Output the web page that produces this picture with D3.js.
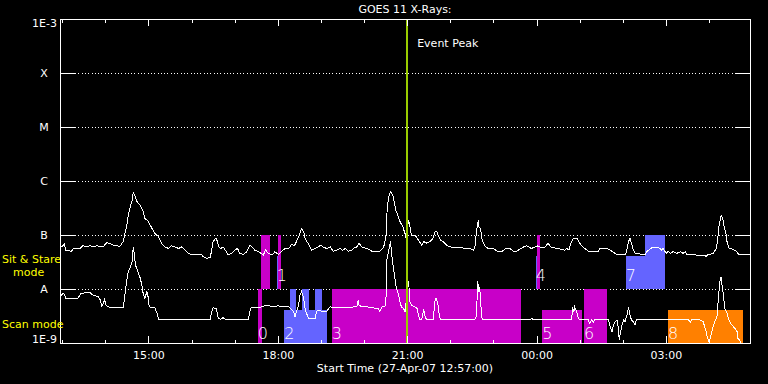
<!DOCTYPE html>
<html>
<head>
<meta charset="utf-8">
<script src="https://cdn.jsdelivr.net/npm/d3@7"></script>
<style>
  html, body { margin: 0; padding: 0; background: #000; }
  svg text { font-family: "DejaVu Sans", sans-serif; }
</style>
</head>
<body>
<div id="chart"></div>
<script>
// time window: 27-Apr-07 12:57 to 28-Apr-07 04:57 UT
const START = Date.UTC(2007, 3, 27, 12, 57);
const END = Date.UTC(2007, 3, 28, 4, 57);
const EVENT_PEAK = 483; // minutes after start

const decades = [-9, -8, -7, -6, -5, -4, -3];
const decadeLabels = ['1E-9', 'A', 'B', 'C', 'M', 'X', '1E-3'];

// [minutes after start, log10 flux (W/m^2)]
const longChannel = [
  [2,-7.22],[6,-7.17],[8,-7.28],[16,-7.30],[19,-7.25],[28,-7.25],[32,-7.19],[35,-7.22],[42,-7.20],[46,-7.22],
  [51,-7.20],[60,-7.22],[65,-7.14],[70,-7.16],[74,-7.19],[79,-7.19],[83,-7.22],[86,-7.16],[88,-7.12],[90,-7.00],
  [93,-6.81],[95,-6.63],[97,-6.51],[100,-6.38],[102,-6.21],[104,-6.26],[107,-6.38],[111,-6.44],[116,-6.57],[118,-6.69],
  [123,-6.75],[128,-6.88],[132,-6.97],[137,-7.03],[141,-7.15],[146,-7.22],[151,-7.25],[155,-7.20],[160,-7.22],[165,-7.25],
  [169,-7.22],[174,-7.28],[179,-7.34],[183,-7.36],[197,-7.36],[199,-7.40],[204,-7.43],[209,-7.42],[211,-7.28],[213,-7.12],
  [217,-7.06],[219,-7.12],[221,-7.22],[224,-7.25],[227,-7.22],[230,-7.28],[234,-7.37],[239,-7.34],[243,-7.28],[247,-7.25],
  [250,-7.34],[255,-7.36],[260,-7.31],[264,-7.19],[267,-7.22],[271,-7.28],[276,-7.31],[280,-7.34],[283,-7.37],[286,-7.28],
  [290,-7.34],[295,-7.37],[299,-7.31],[304,-7.36],[308,-7.31],[313,-7.25],[317,-7.26],[320,-7.22],[322,-7.17],[326,-7.20],
  [329,-7.12],[333,-7.00],[336,-6.88],[339,-6.94],[341,-7.06],[343,-7.12],[345,-7.15],[348,-7.22],[350,-7.28],[355,-7.25],
  [359,-7.22],[363,-7.19],[366,-7.22],[371,-7.25],[376,-7.22],[380,-7.30],[385,-7.28],[390,-7.25],[393,-7.28],[397,-7.25],
  [401,-7.30],[406,-7.28],[408,-7.25],[413,-7.22],[416,-7.15],[420,-7.22],[424,-7.24],[429,-7.26],[434,-7.30],[445,-7.30],
  [449,-7.25],[451,-7.19],[454,-7.00],[455,-6.57],[457,-6.32],[458,-6.26],[460,-6.20],[463,-6.26],[465,-6.38],[467,-6.54],
  [470,-6.63],[473,-6.75],[477,-6.85],[480,-6.97],[481,-7.06],[485,-6.72],[489,-7.00],[494,-7.00],[497,-7.06],[500,-7.12],
  [503,-7.19],[506,-7.12],[510,-7.15],[515,-7.12],[519,-7.06],[522,-6.94],[524,-6.93],[526,-7.00],[529,-7.09],[533,-7.12],
  [538,-7.19],[543,-7.22],[550,-7.24],[561,-7.24],[566,-7.26],[570,-7.25],[575,-7.28],[577,-7.25],[579,-7.00],[581,-6.78],
  [582,-6.75],[583,-6.85],[585,-6.88],[587,-7.06],[589,-7.15],[592,-7.22],[596,-7.25],[603,-7.25],[608,-7.30],[615,-7.30],
  [618,-7.28],[620,-7.25],[626,-7.25],[631,-7.30],[635,-7.30],[640,-7.26],[645,-7.22],[649,-7.20],[652,-7.22],[656,-7.25],
  [661,-7.22],[665,-7.20],[670,-7.24],[675,-7.22],[679,-7.15],[683,-7.22],[692,-7.25],[702,-7.28],[705,-7.25],[708,-7.28],
  [711,-7.15],[714,-7.07],[719,-7.06],[723,-7.15],[727,-7.22],[730,-7.25],[735,-7.30],[749,-7.30],[751,-7.25],[761,-7.25],
  [765,-7.28],[769,-7.31],[774,-7.36],[787,-7.36],[789,-7.25],[791,-7.12],[793,-7.06],[795,-7.15],[797,-7.25],[800,-7.34],
  [812,-7.36],[814,-7.37],[816,-7.31],[821,-7.26],[825,-7.22],[828,-7.24],[832,-7.22],[837,-7.28],[839,-7.25],[842,-7.31],
  [844,-7.34],[846,-7.30],[849,-7.34],[853,-7.31],[858,-7.34],[863,-7.31],[867,-7.34],[870,-7.31],[872,-7.36],[897,-7.38],
  [899,-7.40],[901,-7.37],[904,-7.36],[909,-7.34],[913,-7.25],[915,-7.09],[917,-6.81],[920,-6.64],[922,-6.69],[924,-6.85],
  [927,-7.00],[928,-7.12],[931,-7.25],[935,-7.26],[938,-7.28],[942,-7.31],[944,-7.36],[955,-7.37],[960,-7.36]
];

const shortChannel = [
  [1,-8.14],[4,-8.08],[6,-8.10],[8,-8.17],[25,-8.17],[29,-8.08],[42,-8.06],[44,-8.10],[46,-8.11],[53,-8.14],
  [56,-8.20],[58,-8.31],[60,-8.28],[62,-8.20],[64,-8.30],[67,-8.33],[72,-8.35],[88,-8.35],[89,-8.24],[92,-7.93],
  [95,-7.67],[97,-7.62],[100,-7.52],[102,-7.22],[103,-7.31],[105,-7.56],[107,-7.62],[109,-7.71],[111,-7.77],[114,-7.93],
  [116,-8.11],[118,-8.17],[121,-8.05],[123,-8.17],[124,-8.33],[132,-8.35],[135,-8.45],[137,-8.56],[209,-8.56],[211,-8.42],
  [213,-8.35],[217,-8.36],[219,-8.45],[220,-8.54],[224,-8.56],[227,-8.53],[230,-8.56],[262,-8.56],[264,-8.42],[266,-8.35],
  [276,-8.35],[281,-8.33],[285,-8.31],[290,-8.30],[295,-8.33],[304,-8.31],[308,-8.33],[318,-8.33],[320,-8.35],[325,-8.42],
  [327,-8.51],[329,-8.42],[332,-8.30],[334,-8.11],[336,-8.05],[339,-8.17],[341,-8.36],[343,-8.45],[346,-8.54],[355,-8.54],
  [357,-8.42],[359,-8.39],[364,-8.41],[371,-8.41],[376,-8.33],[380,-8.35],[413,-8.33],[415,-8.20],[416,-8.30],[420,-8.33],
  [427,-8.33],[436,-8.35],[443,-8.36],[445,-8.42],[448,-8.33],[452,-8.33],[454,-8.11],[455,-7.43],[458,-7.25],[460,-7.12],
  [461,-7.31],[464,-7.62],[466,-7.80],[468,-7.99],[471,-8.11],[473,-8.24],[475,-8.33],[478,-8.36],[480,-8.42],[481,-8.30],
  [485,-7.86],[487,-8.24],[489,-8.30],[494,-8.33],[497,-8.36],[499,-8.51],[501,-8.57],[503,-8.57],[505,-8.45],[506,-8.37],
  [508,-8.51],[510,-8.57],[519,-8.57],[522,-8.20],[523,-8.17],[525,-8.24],[526,-8.30],[528,-8.51],[530,-8.57],[577,-8.57],
  [579,-8.51],[580,-8.30],[581,-7.86],[582,-7.93],[583,-8.05],[584,-7.96],[585,-8.20],[587,-8.54],[589,-8.57],[654,-8.57],
  [656,-8.54],[659,-8.57],[712,-8.57],[713,-8.33],[715,-8.42],[716,-8.33],[718,-8.39],[719,-8.42],[721,-8.54],[723,-8.57],
  [735,-8.57],[737,-8.64],[740,-8.57],[742,-8.61],[744,-8.57],[761,-8.56],[763,-8.57],[765,-8.67],[768,-8.79],[770,-8.67],
  [772,-8.61],[775,-8.57],[777,-8.73],[778,-8.94],[780,-8.79],[782,-8.67],[784,-8.57],[786,-8.61],[789,-8.48],[791,-8.33],
  [793,-8.48],[795,-8.57],[798,-8.61],[800,-8.67],[802,-8.57],[821,-8.56],[830,-8.57],[874,-8.57],[877,-8.61],[879,-8.57],
  [890,-8.57],[895,-8.61],[899,-8.79],[901,-8.91],[903,-8.98],[904,-8.94],[907,-8.79],[909,-8.67],[911,-8.61],[914,-8.51],
  [916,-8.17],[918,-7.86],[920,-7.77],[921,-7.93],[923,-8.11],[925,-8.36],[928,-8.45],[930,-8.54],[932,-8.61],[935,-8.67],
  [937,-8.70],[939,-8.73],[942,-8.79],[943,-8.91],[945,-8.94],[947,-8.98],[949,-9.04]
];

// observation blocks: start/end minutes, log10 flux bottom/top, kind, label
const blocks = [
  { t0: 280, t1: 292, lo: -8, hi: -7, kind: 'raster' },
  { t0: 301.5, t1: 303, lo: -8, hi: -7.39, kind: 'sit', label: '1' },
  { t0: 303, t1: 307, lo: -8, hi: -7, kind: 'raster' },
  { t0: 662, t1: 664, lo: -8, hi: -7.39, kind: 'sit', label: '4' },
  { t0: 664, t1: 668, lo: -8, hi: -7, kind: 'raster' },
  { t0: 787, t1: 842, lo: -8, hi: -7.39, kind: 'sit', label: '7' },
  { t0: 814, t1: 842, lo: -7.39, hi: -7, kind: 'sit' },
  { t0: 275, t1: 281, lo: -9, hi: -8, kind: 'raster', label: '0' },
  { t0: 312, t1: 372, lo: -9, hi: -8.39, kind: 'sit', label: '2' },
  { t0: 320, t1: 329, lo: -8.39, hi: -8, kind: 'sit' },
  { t0: 336, t1: 346, lo: -8.39, hi: -8, kind: 'sit' },
  { t0: 355, t1: 365, lo: -8.39, hi: -8, kind: 'sit' },
  { t0: 378, t1: 642, lo: -9, hi: -8, kind: 'raster', label: '3' },
  { t0: 671, t1: 726, lo: -9, hi: -8.39, kind: 'raster', label: '5' },
  { t0: 729, t1: 761, lo: -9, hi: -8, kind: 'raster', label: '6' },
  { t0: 846, t1: 950, lo: -9, hi: -8.39, kind: 'scan', label: '8' }
];

const width = 768, height = 384;
const margin = { left: 60, right: 18, top: 19, bottom: 41 };

const svg = d3.select('#chart').append('svg')
  .attr('width', width)
  .attr('height', height)
  .style('background', '#000');

const toDate = m => new Date(START + m * 60000);

const x = d3.scaleUtc()
  .domain([new Date(START), new Date(END)])
  .range([margin.left, width - margin.right]);
const y = d3.scaleLog()
  .domain([1e-9, 1e-3])
  .range([height - margin.bottom, margin.top]);

const colour = d3.scaleOrdinal()
  .domain(['raster', 'sit', 'scan'])
  .range(['#c800c8', '#6464ff', '#ff8000']);

const x0 = margin.left, x1 = width - margin.right;
const y0 = margin.top, y1 = height - margin.bottom;

svg.append('defs').append('clipPath').attr('id', 'plot')
  .append('rect').attr('x', x0).attr('y', y0).attr('width', x1 - x0).attr('height', y1 - y0);

// dotted grid at the class levels
svg.append('g').selectAll('line')
  .data(decades.slice(1, -1))
  .join('line')
  .attr('x1', x0 + 15).attr('x2', x1 - 14)
  .attr('y1', d => Math.round(y(10 ** d)) + 0.5)
  .attr('y2', d => Math.round(y(10 ** d)) + 0.5)
  .attr('stroke', '#fff')
  .attr('stroke-dasharray', '1,2.3')
  .attr('shape-rendering', 'crispEdges');

// observation blocks
svg.append('g').selectAll('rect')
  .data(blocks)
  .join('rect')
  .attr('x', d => x(toDate(d.t0)))
  .attr('width', d => x(toDate(d.t1)) - x(toDate(d.t0)))
  .attr('y', d => y(10 ** d.hi))
  .attr('height', d => y(10 ** d.lo) - y(10 ** d.hi))
  .attr('fill', d => colour(d.kind))
  .attr('shape-rendering', 'crispEdges');

svg.append('g').selectAll('text')
  .data(blocks.filter(d => d.label))
  .join('text')
  .attr('x', d => x(toDate(d.t0)))
  .attr('y', d => y(10 ** d.lo) - (d.lo <= -9 ? 4 : 8))
  .attr('font-size', 16)
  .attr('font-weight', 200)
  .attr('fill', '#fff')
  .text(d => d.label);

// flux curves
const line = d3.line()
  .x(d => x(toDate(d[0])))
  .y(d => y(10 ** d[1]));

const curves = svg.append('g').attr('clip-path', 'url(#plot)');
[longChannel, shortChannel].forEach(series => {
  curves.append('path')
    .attr('d', line(series))
    .attr('fill', 'none')
    .attr('stroke', '#fff')
    .attr('stroke-width', 1)
    .attr('shape-rendering', 'crispEdges');
});

// event peak marker
const peakX = x(toDate(EVENT_PEAK));
svg.append('line')
  .attr('x1', peakX).attr('x2', peakX)
  .attr('y1', y0).attr('y2', y1)
  .attr('stroke', '#99cc00')
  .attr('stroke-width', 2)
  .attr('shape-rendering', 'crispEdges');
svg.append('text')
  .attr('x', peakX + 10)
  .attr('y', 47)
  .attr('font-size', 11)
  .attr('fill', '#fff')
  .text('Event Peak');

// axes
const hours = x.ticks(d3.utcHour.every(1));
const isMajor = d => d.getUTCHours() % 3 === 0;

const bottomAxis = svg.append('g')
  .attr('transform', `translate(0,${y1})`)
  .call(d3.axisBottom(x).tickValues(hours).tickSize(-7).tickPadding(8)
    .tickFormat(d => isMajor(d) ? d3.utcFormat('%H:%M')(d) : ''));
bottomAxis.selectAll('.tick line').attr('y2', d => isMajor(d) ? -7 : -3.5);

const topAxis = svg.append('g')
  .attr('transform', `translate(0,${y0})`)
  .call(d3.axisTop(x).tickValues(hours).tickSize(-7).tickFormat(''));
topAxis.selectAll('.tick line').attr('y2', d => isMajor(d) ? 7 : 3.5);

const yTicks = decades.map(d => 10 ** d);
svg.append('g')
  .attr('transform', `translate(${x0},0)`)
  .call(d3.axisLeft(y).tickValues(yTicks).tickSize(-15).tickFormat(''));
svg.append('g')
  .attr('transform', `translate(${x1},0)`)
  .call(d3.axisRight(y).tickValues(yTicks).tickSize(-14).tickFormat(''));

svg.selectAll('.domain').remove();
svg.selectAll('.tick line').attr('stroke', '#fff').attr('shape-rendering', 'crispEdges');
svg.selectAll('.tick text').attr('fill', '#fff').attr('font-size', 11)
  .attr('font-family', '"DejaVu Sans", sans-serif');

svg.append('rect')
  .attr('x', x0 + 0.5).attr('y', y0 + 0.5)
  .attr('width', x1 - x0).attr('height', y1 - y0)
  .attr('fill', 'none')
  .attr('stroke', '#fff')
  .attr('shape-rendering', 'crispEdges');

// decade labels
svg.append('g').selectAll('text')
  .data(decades)
  .join('text')
  .attr('x', (d, i) => (i === 0 || i === decades.length - 1) ? 57 : 44)
  .attr('y', (d, i) => i === 0 ? y(10 ** d) : i === decades.length - 1 ? y(10 ** d) + 8 : y(10 ** d) + 4)
  .attr('text-anchor', (d, i) => (i === 0 || i === decades.length - 1) ? 'end' : 'middle')
  .attr('font-size', 11)
  .attr('fill', '#fff')
  .text((d, i) => decadeLabels[i]);

// mode labels
const modeText = svg.append('g').attr('fill', '#ffff00').attr('font-size', 11);
modeText.append('text').attr('x', 2).attr('y', 263).text('Sit & Stare');
modeText.append('text').attr('x', 13).attr('y', 276).text('mode');
modeText.append('text').attr('x', 2).attr('y', 328).text('Scan mode');

// titles
svg.append('text')
  .attr('x', (x0 + x1) / 2)
  .attr('y', 13)
  .attr('text-anchor', 'middle')
  .attr('font-size', 11)
  .attr('fill', '#fff')
  .text('GOES 11 X-Rays:');
svg.append('text')
  .attr('x', (x0 + x1) / 2)
  .attr('y', 372)
  .attr('text-anchor', 'middle')
  .attr('font-size', 11)
  .attr('fill', '#fff')
  .text('Start Time (27-Apr-07 12:57:00)');
</script>
</body>
</html>
